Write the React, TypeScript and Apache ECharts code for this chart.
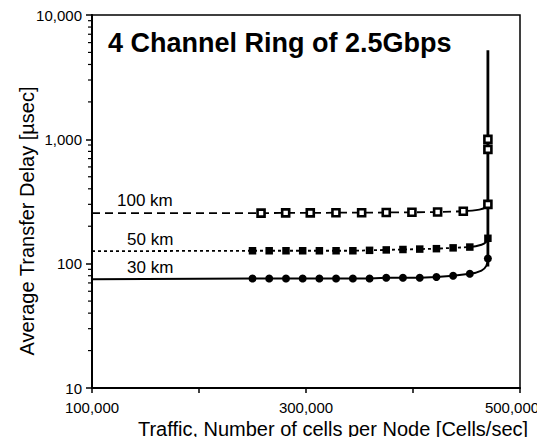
import { useEffect, useRef } from "react";
import * as echarts from "echarts";

// ---- data ----
const xTicks = [100000, 200000, 300000, 400000, 500000];
const xLabelled = [100000, 300000, 500000];
const yTicks = [10, 100, 1000, 10000];
const yMinorTicks = [20, 30, 40, 50, 60, 70, 80, 90, 200, 300, 400, 500, 600, 700, 800, 900, 2000, 3000, 4000, 5000, 6000, 7000, 8000, 9000];

const lineStartX = 100000;

// 30 km (solid, circles)
const start30 = 75;
const x30 = [250000, 265600, 281300, 296900, 312500, 328100, 343800, 359400, 375000, 390600, 406300, 421900, 437500, 453100];
const y30 = [76, 76, 76, 76, 76, 76, 76, 76, 77, 77, 77, 78, 80, 83];
const tail30X = [453100, 464000, 468500, 470000];
const tail30Y = [83, 88, 96, 110];

// 50 km (dotted, filled squares)
const start50 = 126;
const x50 = [250000, 265600, 281300, 296900, 312500, 328100, 343800, 359400, 375000, 390600, 406300, 421900, 437500, 453100];
const y50 = [127, 127, 127, 127, 127, 127, 127, 128, 129, 130, 131, 132, 134, 136];
const tail50X = [453100, 464000, 468500, 470000];
const tail50Y = [136, 142, 150, 160];

// 100 km (dashed, open squares)
const start100 = 255;
const x100 = [258000, 281000, 304000, 328000, 352000, 375000, 399000, 423000, 447000];
const y100 = [255, 256, 256, 257, 257, 258, 259, 260, 264];
const tail100X = [447000, 462000, 468000, 470000, 470000, 470000];
const tail100Y = [264, 272, 285, 300, 830, 1000];

// saturation (vertical) line
const asymX = [470000, 470000];
const asymY = [95, 5200];

const seriesLabels = ["30 km", "50 km", "100 km"];
const title = "4 Channel Ring of 2.5Gbps";
const xName = "Traffic, Number of cells per Node [Cells/sec]";
const yName = "Average Transfer Delay [\u00b5sec]";

const FONT = "'Liberation Sans', Arial, Helvetica, sans-serif";

function fmt(v: number) {
  return String(v).replace(/\B(?=(\d{3})+(?!\d))/g, ",");
}

function flatData(start: number, xs: number[], ys: number[]) {
  const d: any[] = [{ value: [lineStartX, start], symbol: "none" }];
  xs.forEach((x, i) => d.push([x, ys[i]]));
  return d;
}

function tailData(xs: number[], ys: number[], markFrom: number) {
  return xs.map((x, i) => (i >= markFrom ? [x, ys[i]] : { value: [x, ys[i]], symbol: "none" }));
}

function txt(x: number, y: number, text: string, font: string, align: string, extra: any = {}) {
  return {
    type: "text",
    x,
    y,
    ...extra,
    style: { text, font, fill: "#000", align, verticalAlign: "middle", textAlign: align, textVerticalAlign: "middle" },
  };
}

export default function App() {
  const ref = useRef<HTMLDivElement>(null);
  useEffect(() => {
    if (!ref.current) return;
    const chart = echarts.init(ref.current, undefined, { renderer: "svg" });
    const black = "#000";
    const option: any = {
      animation: false,
      backgroundColor: "#fff",
      grid: { left: 92, right: 25, top: 15, bottom: 57, show: true, borderColor: black, borderWidth: 1.5, backgroundColor: "transparent" },
      xAxis: {
        type: "value",
        min: 100000,
        max: 500000,
        interval: 100000,
        axisLine: { lineStyle: { color: black, width: 2 } },
        axisTick: { show: true, inside: false, length: 5, lineStyle: { color: black, width: 1.5 } },
        splitLine: { show: false },
        axisLabel: {
          color: black,
          fontSize: 15,
          fontFamily: FONT,
          margin: 12,
          formatter: (v: number) => {
            if (!(xLabelled.includes(v) && xTicks.includes(v))) return "";
            return v === 500000 ? `{r|${fmt(v)}}` : fmt(v);
          },
          rich: { r: { fontSize: 15, fontFamily: FONT, color: black, padding: [0, 16, 0, 0] } },
        },
      },
      yAxis: {
        type: "log",
        logBase: 10,
        min: 10,
        max: 10000,
        axisLine: { lineStyle: { color: black, width: 2 } },
        axisTick: { show: true, inside: false, length: 6, lineStyle: { color: black, width: 1.5 } },
        splitLine: { show: false },
        axisLabel: {
          color: black,
          fontSize: 15,
          fontFamily: FONT,
          margin: 10,
          formatter: (v: number) => (yTicks.includes(Math.round(v)) ? fmt(Math.round(v)) : ""),
        },
      },
      graphic: [
        txt(108, 43, title, `bold 27px ${FONT}`, "left"),
        txt(333, 429, xName, `20px ${FONT}`, "center"),
        txt(27, 221, yName, `20px ${FONT}`, "center", { rotation: Math.PI / 2 }),
        txt(117, 200, seriesLabels[2], `17px ${FONT}`, "left"),
        txt(127, 239, seriesLabels[1], `17px ${FONT}`, "left"),
        txt(127, 267, seriesLabels[0], `17px ${FONT}`, "left"),
      ],
      series: [
        {
          type: "custom",
          coordinateSystem: "cartesian2d",
          silent: true,
          clip: false,
          data: yMinorTicks.map((v) => [lineStartX, v]),
          renderItem: (_p: any, api: any) => {
            const pt = api.coord([api.value(0), api.value(1)]);
            return { type: "line", shape: { x1: pt[0] - 4, y1: pt[1], x2: pt[0], y2: pt[1] }, style: { stroke: black, lineWidth: 1.2 } };
          },
        },
        {
          name: "asymptote",
          type: "line",
          data: asymX.map((x, i) => [x, asymY[i]]),
          symbol: "none",
          lineStyle: { color: black, width: 2.8 },
          silent: true,
        },
        {
          name: seriesLabels[0],
          type: "line",
          data: flatData(start30, x30, y30),
          symbol: "circle",
          symbolSize: 8,
          showAllSymbol: true,
          itemStyle: { color: black },
          lineStyle: { color: black, width: 2, type: "solid" },
        },
        {
          name: seriesLabels[0] + " tail",
          type: "line",
          smooth: 0.5,
          data: tailData(tail30X, tail30Y, 3),
          symbol: "circle",
          symbolSize: 8,
          showAllSymbol: true,
          itemStyle: { color: black },
          lineStyle: { color: black, width: 2 },
        },
        {
          name: seriesLabels[1],
          type: "line",
          data: flatData(start50, x50, y50),
          symbol: "rect",
          symbolSize: 7.5,
          showAllSymbol: true,
          itemStyle: { color: black },
          lineStyle: { color: black, width: 1.8, type: [3, 3] },
        },
        {
          name: seriesLabels[1] + " tail",
          type: "line",
          smooth: 0.5,
          data: tailData(tail50X, tail50Y, 3),
          symbol: "rect",
          symbolSize: 7.5,
          showAllSymbol: true,
          itemStyle: { color: black },
          lineStyle: { color: black, width: 2 },
        },
        {
          name: seriesLabels[2],
          type: "line",
          data: flatData(start100, x100, y100),
          symbol: "rect",
          symbolSize: 7,
          showAllSymbol: true,
          itemStyle: { color: "#fff", borderColor: black, borderWidth: 2.6 },
          lineStyle: { color: black, width: 1.8, type: [8, 5] },
        },
        {
          name: seriesLabels[2] + " tail",
          type: "line",
          smooth: 0.4,
          data: tailData(tail100X, tail100Y, 3),
          symbol: "rect",
          symbolSize: 7,
          showAllSymbol: true,
          itemStyle: { color: "#fff", borderColor: black, borderWidth: 2.6 },
          lineStyle: { color: black, width: 2 },
        },
      ],
    };
    chart.setOption(option);
    return () => chart.dispose();
  }, []);
  return <div ref={ref} style={{ width: 545, height: 445, margin: -8 }} />;
}
